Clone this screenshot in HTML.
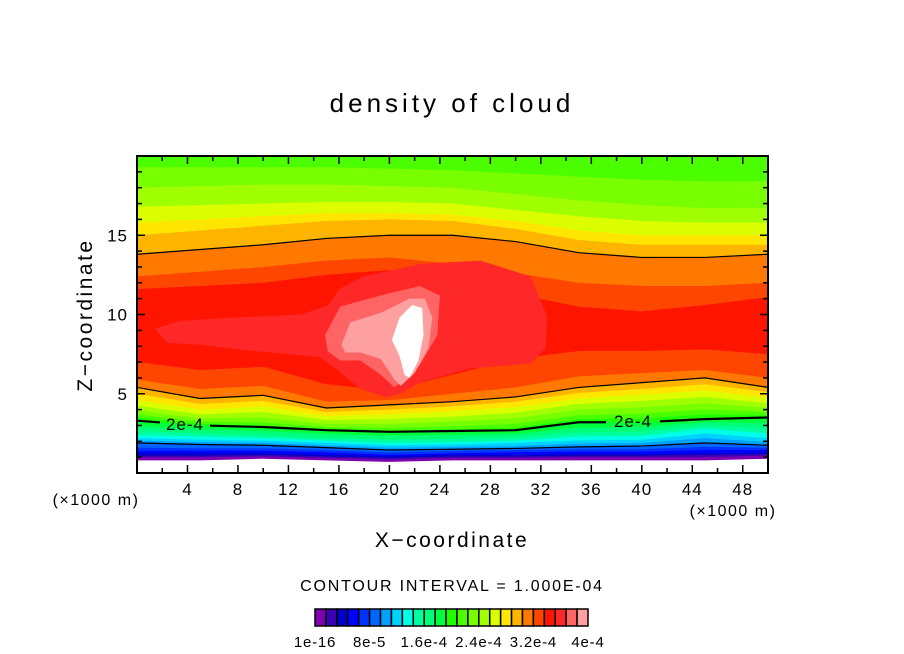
<!DOCTYPE html>
<html><head><meta charset="utf-8"><style>
html,body{margin:0;padding:0;background:#fff;}
svg{display:block;font-family:"Liberation Sans",sans-serif;}
</style></head><body>
<svg id="chart" width="904" height="654" viewBox="0 0 904 654" xmlns="http://www.w3.org/2000/svg">
<defs>
<clipPath id="plotclip"><rect x="137" y="156" width="631" height="317"/></clipPath>
<mask id="labelmask"><rect x="0" y="0" width="904" height="654" fill="#fff"/><rect x="160" y="412" width="50" height="22" fill="#000"/><rect x="606" y="408" width="54" height="22" fill="#000"/></mask>
</defs>
<text x="452" y="112" text-anchor="middle" font-size="26" letter-spacing="4">density of cloud</text>
<g id="fills" clip-path="url(#plotclip)"></g>
<g id="lines" clip-path="url(#plotclip)" mask="url(#labelmask)"></g>
<text x="185" y="430" text-anchor="middle" font-size="17" letter-spacing="1">2e-4</text>
<text x="633" y="427" text-anchor="middle" font-size="17" letter-spacing="1">2e-4</text>
<rect x="137" y="156" width="631" height="317" fill="none" stroke="#000" stroke-width="2"/>
<g id="axes"></g>
<text transform="translate(92,315) rotate(-90)" text-anchor="middle" font-size="21" letter-spacing="2.5">Z−coordinate</text>
<text x="452" y="547" text-anchor="middle" font-size="21" letter-spacing="2.5">X−coordinate</text>
<text x="96" y="505" text-anchor="middle" font-size="16" letter-spacing="1.5">(×1000 m)</text>
<text x="733" y="516" text-anchor="middle" font-size="16" letter-spacing="1.5">(×1000 m)</text>
<text x="452" y="591" text-anchor="middle" font-size="16" letter-spacing="1.8">CONTOUR INTERVAL = 1.000E-04</text>
<g id="colorbar"></g>
</svg>
<script>
const xs=[0,5,10,15,20,25,30,35,40,45,50];
const colors=["#8000b0","#3c00b4","#0000c8","#0000ff","#0032ff","#0064ff","#00a0ff","#00d2ff","#00ffe6","#00ffa0","#00ff78","#00ff3c","#1eff00","#4cff00","#78ff00","#a0ff00","#dcff00","#ffe600","#ffb400","#ff7800","#ff4600","#ff1400","#ff2828","#ff6464","#ffa0a0","#ffffff"];
const lower1=[0.8,0.8,0.9,0.8,0.7,0.8,0.8,0.8,0.8,0.8,0.9];
const lower2=[1.0,1.0,1.05,0.95,0.85,0.95,0.95,1.0,1.0,1.0,1.1];
const lower3=[1.1,1.1,1.15,1.05,0.95,1.05,1.05,1.1,1.1,1.15,1.2];
const lower4=[1.25,1.25,1.25,1.15,1.05,1.15,1.15,1.2,1.2,1.25,1.3];
const lower5=[1.4,1.4,1.4,1.3,1.15,1.25,1.3,1.35,1.35,1.45,1.45];
const lower6=[1.6,1.55,1.55,1.45,1.3,1.4,1.45,1.5,1.5,1.65,1.6];
const lower7=[1.9,1.8,1.75,1.6,1.45,1.5,1.55,1.65,1.7,1.9,1.75];
const lower8=[2.05,1.95,1.9,1.75,1.6,1.65,1.7,1.85,1.9,2.2,1.95];
const lower9=[2.2,2.1,2.05,1.9,1.75,1.8,1.9,2.05,2.1,2.5,2.2];
const lower10=[2.4,2.3,2.2,2.05,1.9,1.95,2.05,2.3,2.35,2.8,2.5];
const lower11=[2.65,2.5,2.4,2.2,2.1,2.15,2.25,2.55,2.6,3.0,2.8];
const lower12=[2.95,2.75,2.65,2.45,2.35,2.4,2.45,2.85,2.9,3.2,3.15];
const lower13=[3.3,3.0,2.9,2.7,2.6,2.65,2.7,3.2,3.2,3.4,3.5];
const lower14=[3.5,3.1,3.0,2.8,2.7,2.75,2.85,3.4,3.45,3.7,3.65];
const lower15=[3.7,3.25,3.2,2.9,2.85,2.95,3.1,3.65,3.75,4.0,3.85];
const lower16=[3.95,3.45,3.5,3.1,3.1,3.25,3.45,4.0,4.15,4.4,4.1];
const lower17=[4.25,3.7,3.85,3.35,3.4,3.55,3.8,4.35,4.55,4.8,4.4];
const lower18=[4.6,4.0,4.2,3.6,3.7,3.9,4.15,4.7,4.95,5.2,4.75];
const lower19=[5.0,4.35,4.55,3.85,4.0,4.2,4.5,5.05,5.3,5.6,5.1];
const lower20=[5.4,4.7,4.9,4.1,4.3,4.5,4.8,5.4,5.7,6.0,5.4];
const lower21=[5.9,5.3,5.5,4.5,4.6,5.0,5.4,6.1,6.3,6.5,6.0];
const lower22=[7.0,6.5,6.7,5.6,5.2,6.2,7.2,7.7,7.7,7.8,7.5];
const upper15=[19.3,19.3,19.3,19.3,19.2,19.1,18.9,18.7,18.5,18.4,18.4];
const upper16=[18.0,18.1,18.2,18.2,18.1,18.0,17.6,17.2,16.9,16.7,16.7];
const upper17=[16.8,16.9,17.0,17.1,17.1,17.0,16.6,16.2,15.9,15.8,15.8];
const upper18=[15.8,16.0,16.2,16.4,16.4,16.3,15.9,15.3,15.0,15.0,15.0];
const upper19=[15.0,15.3,15.6,15.9,16.0,15.9,15.4,14.7,14.4,14.4,14.4];
const upper20=[13.8,14.1,14.4,14.8,15.0,15.0,14.6,13.9,13.6,13.6,13.8];
const upper21=[12.4,12.7,13.0,13.4,13.6,13.2,12.6,12.0,11.8,11.8,12.0];
const upper22=[11.6,11.8,12.0,12.5,12.8,12.2,11.3,10.5,10.2,10.6,11.1];
const blob23x=[1.4,3.4,7.4,13,15.2,16.0,17.9,22.6,27.2,31.2,32.5,32.4,31.2,26.4,22.4,20.9,19.7,17.7,15.7,14.5,12.0,8.0,5.0,2.4];
const blob23z=[9.1,9.6,9.8,10.0,10.6,11.6,12.4,13.2,13.4,12.4,9.9,7.9,6.9,6.6,5.7,5.0,4.8,5.3,6.6,7.3,7.5,7.8,8.1,8.2];
const blob24x=[14.9,16.1,19.3,22.4,24.0,23.8,22.4,21.2,20.4,19.3,17.7,16.1,15.1];
const blob24z=[8.7,10.5,11.2,11.8,11.2,8.7,6.8,5.9,5.4,6.2,7.1,7.1,7.7];
const blob25x=[16.2,16.9,19.3,21.6,22.8,23.4,23.1,22.0,20.9,20.4,19.3,17.7,16.5];
const blob25z=[8.1,9.5,10.1,11.0,11.0,9.8,7.9,6.3,5.5,5.9,7.2,7.6,7.6];
const blob26x=[20.2,20.8,21.8,22.6,22.7,22.3,21.6,21.2,20.8];
const blob26z=[8.4,9.8,10.6,10.4,8.7,7.1,6.0,6.2,7.4];
const lowers=[lower1,lower2,lower3,lower4,lower5,lower6,lower7,lower8,lower9,lower10,lower11,lower12,lower13,lower14,lower15,lower16,lower17,lower18,lower19,lower20,lower21,lower22];
const uppers={15:upper15,16:upper16,17:upper17,18:upper18,19:upper19,20:upper20,21:upper21,22:upper22};
const xTicks=[4,8,12,16,20,24,28,32,36,40,44,48];
const zTicks=[5,10,15];
const cbLabels=["1e-16","8e-5","1.6e-4","2.4e-4","3.2e-4","4e-4"];
const cbLabelIdx=[0,5,10,15,20,25];

const NS="http://www.w3.org/2000/svg";
const X0=137,X1=768,Y0=473,Y1=156,XMAX=50,ZMAX=20;
function sx(x){return X0+x*(X1-X0)/XMAX;}
function sz(z){return Y0-z*(Y0-Y1)/ZMAX;}
function mk(tag,attrs,parent){const e=document.createElementNS(NS,tag);for(const k in attrs)e.setAttribute(k,attrs[k]);parent.appendChild(e);return e;}
const fills=document.getElementById('fills');
const lines=document.getElementById('lines');
const axes=document.getElementById('axes');
const cb=document.getElementById('colorbar');

for(let i=0;i<lowers.length;i++){
  const lev=i+1;const lo=lowers[i];let pts=[];
  for(let j=0;j<xs.length;j++)pts.push(sx(xs[j])+','+sz(lo[j]));
  if(uppers[lev]){const up=uppers[lev];for(let j=xs.length-1;j>=0;j--)pts.push(sx(xs[j])+','+sz(up[j]));}
  else{pts.push(sx(XMAX)+','+sz(ZMAX+1));pts.push(sx(0)+','+sz(ZMAX+1));}
  const p=mk('polygon',{points:pts.join(' '),fill:colors[i]},fills);
  
  
}
const blobs=[[blob23x,blob23z,22],[blob24x,blob24z,23],[blob25x,blob25z,24],[blob26x,blob26z,25]];
blobs.forEach(b=>{
  const pts=b[0].map((x,k)=>sx(x)+','+sz(b[1][k])).join(' ');
  const p=mk('polygon',{points:pts,fill:colors[b[2]]},fills);
  
  
});
function line(arr,w,name){
  const pts=xs.map((x,j)=>sx(x)+','+sz(arr[j])).join(' ');
  const p=mk('polyline',{points:pts,fill:'none',stroke:'#000','stroke-width':w},lines);
  
  
}
line(lower7,1.2,'contour-1e-4');
line(lower13,2.2,'contour-2e-4');
line(lower20,1.2,'contour-3e-4-lower');
line(upper20,1.2,'contour-3e-4-upper');

for(let v=2;v<XMAX;v+=2){
  const major=v%4===0;const L=major?8:5;
  mk('line',{x1:sx(v),y1:Y0,x2:sx(v),y2:Y0-L,stroke:'#000','stroke-width':1.5},axes);
  mk('line',{x1:sx(v),y1:Y1,x2:sx(v),y2:Y1+L,stroke:'#000','stroke-width':1.5},axes);
}
for(let v=1;v<ZMAX;v++){
  const major=v%5===0;const L=major?8:5;
  mk('line',{x1:X0,y1:sz(v),x2:X0+L,y2:sz(v),stroke:'#000','stroke-width':1.5},axes);
  mk('line',{x1:X1,y1:sz(v),x2:X1-L,y2:sz(v),stroke:'#000','stroke-width':1.5},axes);
}
xTicks.forEach(v=>{
  const t=mk('text',{x:sx(v),y:495,'text-anchor':'middle','font-size':17,'letter-spacing':1},axes);
  t.textContent=v;
  
  
});
zTicks.forEach(v=>{
  const t=mk('text',{x:128,y:sz(v)+6,'text-anchor':'end','font-size':17,'letter-spacing':1},axes);
  t.textContent=v;
  
  
});
const CB0=315,CBW=273/25;
for(let i=0;i<25;i++){
  const r=mk('rect',{x:CB0+i*CBW,y:609,width:CBW,height:17,fill:colors[i],stroke:'#000','stroke-width':1.5},cb);
  
  
}
cbLabels.forEach((s,k)=>{
  const t=mk('text',{x:CB0+cbLabelIdx[k]*CBW,y:647,'text-anchor':'middle','font-size':15,'letter-spacing':0.8},cb);
  t.textContent=s;
  
  
});
</script>
</body></html>
